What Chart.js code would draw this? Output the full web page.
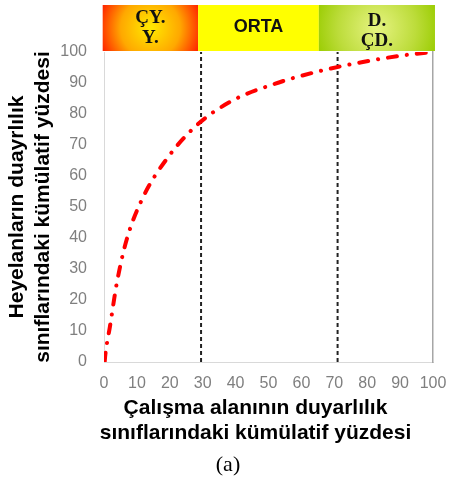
<!DOCTYPE html>
<html><head><meta charset="utf-8">
<script src="https://cdn.jsdelivr.net/npm/chart.js@4/dist/chart.umd.min.js"></script>
<style>html,body{margin:0;padding:0;background:#fff}#wrap{width:449px;height:482px}</style>
</head><body><div id="wrap"><canvas id="c"></canvas></div>
<script>
const curveX = [0.2, 0.4, 1.8, 3.9, 6.9, 11.8, 19, 28, 39, 51.5, 64.6, 78.3, 91.5, 100];
const curveY = [0, 2.3, 11.4, 25.5, 39.5, 53, 65.4, 76.2, 84.3, 89.6, 93.6, 96.7, 99, 100];
const classBounds = [29.5, 71];
const zoneFrom = [-0.4, 28.6, 65.3];
const zoneTo = [28.6, 65.3, 100.6];
const zoneLabels = [["ÇY.", "Y."], ["ORTA"], ["D.", "ÇD."]];
const xTicks = [0,10,20,30,40,50,60,70,80,90,100];
const yTicks = [0,10,20,30,40,50,60,70,80,90,100];
const yTitle = ["Heyelanların duayrlılık", "sınıflarındaki kümülatif yüzdesi"];
const xTitle = ["Çalışma alanının duyarlılık", "sınıflarındaki kümülatif yüzdesi"];
const caption = "(a)";

const SANS = "'Liberation Sans', Arial, sans-serif";
const SERIF = "'Liberation Serif', 'Times New Roman', serif";

const curve = curveX.map((x,i)=>({x, y: curveY[i]}));
const boundSets = classBounds.map(b => ({
  data: [{x:b, y:0},{x:b, y:100}],
  borderColor: '#222', borderWidth: 2, borderDash: [4,3], pointRadius: 0, fill:false
}));

const zonePlugin = {
  id: 'zones',
  afterDraw(chart) {
    const {ctx, chartArea, scales} = chart;
    const top = 5, bottom = chartArea.top - 1;
    for (let i = 0; i < zoneFrom.length; i++) {
      const x0 = scales.x.getPixelForValue(zoneFrom[i]);
      const x1 = scales.x.getPixelForValue(zoneTo[i]);
      const w = x1 - x0, h = bottom - top;
      const cx = (x0 + x1)/2, cy = (top + bottom)/2;
      let fill;
      if (i === 0) {
        fill = ctx.createRadialGradient(cx, cy, 2, cx, cy, w*0.55);
        fill.addColorStop(0, '#ffe600');
        fill.addColorStop(0.55, '#ffa800');
        fill.addColorStop(1, '#ff2400');
      } else if (i === 1) {
        fill = '#ffff00';
      } else {
        fill = ctx.createRadialGradient(cx, cy, 2, cx, cy, w*0.55);
        fill.addColorStop(0, '#e4f27e');
        fill.addColorStop(0.6, '#bcdc3a');
        fill.addColorStop(1, '#99cc00');
      }
      ctx.save();
      ctx.fillStyle = fill;
      ctx.fillRect(x0, top, w, h);
      ctx.fillStyle = '#111';
      ctx.textAlign = 'center';
      ctx.textBaseline = 'middle';
      const lines = zoneLabels[i];
      if (lines.length === 1) {
        ctx.font = "bold 18px " + SANS;
        ctx.fillText(lines[0], cx, cy - 1);
      } else {
        ctx.font = "bold 19px " + SERIF;
        const off = i === 0 ? -1 : 2;
        ctx.fillText(lines[0], cx, cy - 9 + off);
        ctx.fillText(lines[1], cx, cy + 11 + off);
      }
      ctx.restore();
    }
    ctx.save();
    ctx.fillStyle = '#000';
    ctx.textAlign = 'center';
    ctx.textBaseline = 'middle';
    ctx.font = "bold 21px " + SANS;
    ctx.fillText(xTitle[0], 255.5, 408.5);
    ctx.fillText(xTitle[1], 255.5, 433.5);
    ctx.font = "22px " + SERIF;
    ctx.fillText(caption, 228, 465);
    ctx.restore();
  }
};

new Chart(document.getElementById('c'), {
  type: 'line',
  data: {
    datasets: [
      { data: curve, borderColor: '#ff0000', borderWidth: 4, borderDash: [9,10,0.1,10],
        borderCapStyle: 'round', pointRadius: 0, cubicInterpolationMode: 'monotone', fill:false },
      ...boundSets
    ]
  },
  options: {
    responsive: true, maintainAspectRatio: false, animation: false,
    layout: { padding: { top: 52, right: 16, left: 0, bottom: 0 } },
    plugins: { legend: { display: false }, tooltip: { enabled: false } },
    scales: {
      x: {
        type: 'linear', min: 0, max: 100,
        afterBuildTicks: s => { s.ticks = xTicks.map(v => ({value: v})); },
        afterFit: s => { s.height = 120; s.paddingLeft = 0; s.paddingRight = 0; },
        grid: { display: false, drawTicks: false },
        border: { color: '#d9d9d9', width: 1 },
        ticks: { color: '#7f7f7f', font: { size: 16, family: SANS }, padding: 12, maxRotation: 0 }
      },
      y: {
        type: 'linear', min: 0, max: 100,
        afterBuildTicks: s => { s.ticks = yTicks.map(v => ({value: v})); },
        afterFit: s => { s.width = 104; s.paddingTop = 0; s.paddingBottom = 0; },
        grid: { display: false, drawTicks: false },
        border: { color: '#d9d9d9', width: 1 },
        ticks: { color: '#7f7f7f', font: { size: 16, family: SANS }, padding: 17 },
        title: { display: true, text: yTitle, color: '#000', font: { size: 21, weight: 'bold', family: SANS, lineHeight: 1.2 }, padding: { top: 5, bottom: 0 } }
      },
      y2: {
        position: 'right', min: 0, max: 100,
        afterFit: s => { s.width = 0; },
        grid: { display: false, drawTicks: false },
        border: { color: '#a6a6a6', width: 1.5 },
        ticks: { display: false }
      }
    }
  },
  plugins: [zonePlugin]
});
</script></body></html>
